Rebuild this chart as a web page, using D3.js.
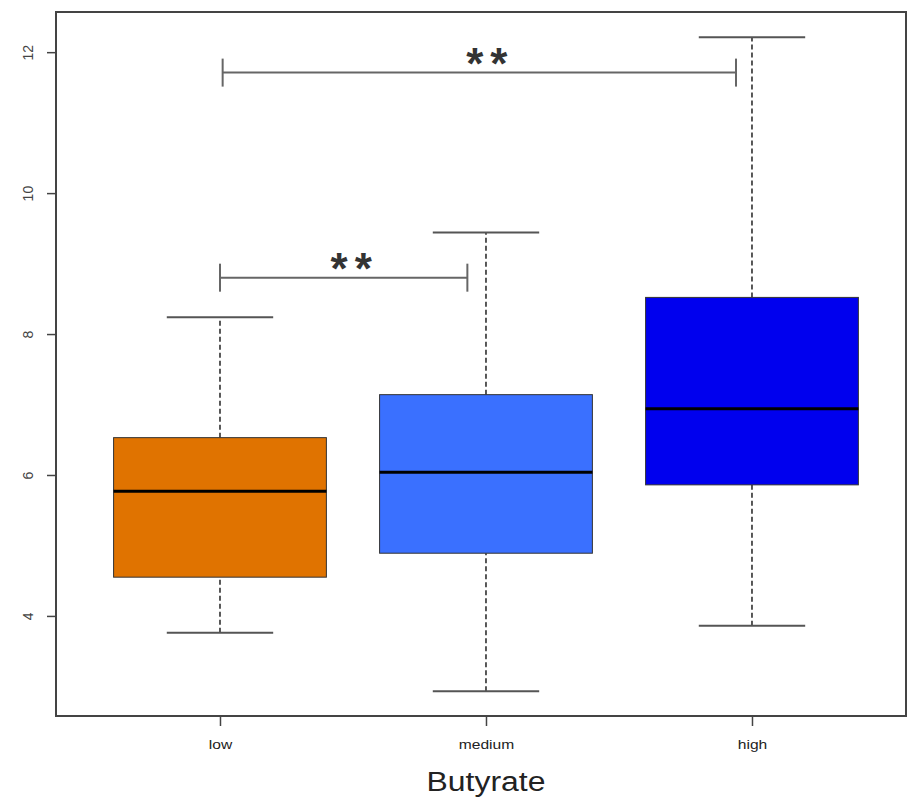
<!DOCTYPE html>
<html>
<head>
<meta charset="utf-8">
<script src="https://cdn.jsdelivr.net/npm/d3@7"></script>
<style>
  body { margin: 0; background: #fff; }
  svg { display: block; font-family: "Liberation Sans", Arial, sans-serif; }
</style>
</head>
<body>
<svg id="chart" width="909" height="804"></svg>
<script>
// groups along the x axis
let categories = ["low", "medium", "high"];
let boxColors = ["#E07300", "#3A70FF", "#0000EE"];

// five number summaries
let whiskerLow = [3.76, 2.93, 3.86];
let q1 = [4.55, 4.89, 5.86];
let median = [5.77, 6.04, 6.94];
let q3 = [6.53, 7.14, 8.52];
let whiskerHigh = [8.24, 9.44, 12.21];

let yTicks = [4, 6, 8, 10, 12];

// significance brackets
let sigFrom = [1, 1.01];
let sigTo = [1.93, 2.94];
let sigY = [8.8, 11.71];
let sigLabel = ["**", "**"];

let svg = d3.select("#chart");

let frame = { left: 56, right: 906, top: 12, bottom: 716 };

let x = d3.scaleLinear()
  .domain([0.3835, 3.579])
  .range([frame.left, frame.right]);

let y = d3.scaleLinear()
  .domain([2.58, 12.57])
  .range([frame.bottom, frame.top]);

let boxW = (x(2) - x(1)) * 0.8;
let capW = boxW * 0.5;

let data = categories.map((c, i) => ({
  name: c,
  pos: i + 1,
  lo: whiskerLow[i],
  q1: q1[i],
  med: median[i],
  q3: q3[i],
  hi: whiskerHigh[i],
  color: boxColors[i]
}));

let boxes = svg.selectAll("g.box")
  .data(data)
  .enter()
  .append("g")
  .attr("class", "box");

// dashed whiskers
boxes.append("line")
  .attr("x1", d => x(d.pos)).attr("x2", d => x(d.pos))
  .attr("y1", d => y(d.lo)).attr("y2", d => y(d.q1))
  .attr("stroke", "#222").attr("stroke-width", 1.5)
  .attr("stroke-dasharray", "5,3");
boxes.append("line")
  .attr("x1", d => x(d.pos)).attr("x2", d => x(d.pos))
  .attr("y1", d => y(d.q3)).attr("y2", d => y(d.hi))
  .attr("stroke", "#222").attr("stroke-width", 1.5)
  .attr("stroke-dasharray", "5,3");

// staples
boxes.append("line")
  .attr("x1", d => x(d.pos) - capW / 2).attr("x2", d => x(d.pos) + capW / 2)
  .attr("y1", d => y(d.lo)).attr("y2", d => y(d.lo))
  .attr("stroke", "#555").attr("stroke-width", 2);
boxes.append("line")
  .attr("x1", d => x(d.pos) - capW / 2).attr("x2", d => x(d.pos) + capW / 2)
  .attr("y1", d => y(d.hi)).attr("y2", d => y(d.hi))
  .attr("stroke", "#555").attr("stroke-width", 2);

// boxes
boxes.append("rect")
  .attr("x", d => x(d.pos) - boxW / 2)
  .attr("width", boxW)
  .attr("y", d => y(d.q3))
  .attr("height", d => y(d.q1) - y(d.q3))
  .attr("fill", d => d.color)
  .attr("stroke", "#333")
  .attr("stroke-width", 1);

// medians
boxes.append("line")
  .attr("x1", d => x(d.pos) - boxW / 2).attr("x2", d => x(d.pos) + boxW / 2)
  .attr("y1", d => y(d.med)).attr("y2", d => y(d.med))
  .attr("stroke", "#000").attr("stroke-width", 3);

// significance brackets
let sig = svg.selectAll("g.sig")
  .data(sigLabel.map((l, i) => ({ a: sigFrom[i], b: sigTo[i], v: sigY[i], label: l })))
  .enter()
  .append("g")
  .attr("class", "sig");

sig.append("line")
  .attr("x1", d => x(d.a)).attr("x2", d => x(d.b))
  .attr("y1", d => y(d.v)).attr("y2", d => y(d.v))
  .attr("stroke", "#666").attr("stroke-width", 2);
sig.append("line")
  .attr("x1", d => x(d.a)).attr("x2", d => x(d.a))
  .attr("y1", d => y(d.v) - 14).attr("y2", d => y(d.v) + 14)
  .attr("stroke", "#666").attr("stroke-width", 2);
sig.append("line")
  .attr("x1", d => x(d.b)).attr("x2", d => x(d.b))
  .attr("y1", d => y(d.v) - 14).attr("y2", d => y(d.v) + 14)
  .attr("stroke", "#666").attr("stroke-width", 2);
sig.append("text")
  .attr("x", d => (x(d.a) + x(d.b)) / 2 + 11)
  .attr("y", d => y(d.v) + 6)
  .attr("text-anchor", "middle")
  .attr("font-size", 44)
  .attr("font-weight", "bold")
  .attr("letter-spacing", 7)
  .attr("fill", "#333")
  .text(d => d.label);

// axes
let yAxis = svg.append("g")
  .attr("transform", `translate(${frame.left},0)`)
  .call(d3.axisLeft(y).tickValues(yTicks).tickSize(9).tickFormat(d3.format("d")));
yAxis.select(".domain").remove();
yAxis.selectAll("line").attr("stroke", "#444").attr("stroke-width", 1.5);
yAxis.selectAll("text")
  .attr("x", 0).attr("dy", "0.35em")
  .attr("transform", "translate(-28,0) rotate(-90)")
  .attr("text-anchor", "middle")
  .attr("font-size", 14)
  .attr("fill", "#444");

let xAxis = svg.append("g")
  .attr("transform", `translate(0,${frame.bottom})`)
  .call(d3.axisBottom(x).tickValues([1, 2, 3]).tickSize(10).tickFormat(d => categories[d - 1]));
xAxis.select(".domain").remove();
xAxis.selectAll("line").attr("stroke", "#444").attr("stroke-width", 1.5);
xAxis.selectAll("text")
  .attr("x", 0).attr("y", 0).attr("dy", 0)
  .attr("transform", "translate(0,33) scale(1.2,1)")
  .attr("font-size", 13)
  .attr("fill", "#222");

// frame
svg.append("rect")
  .attr("x", frame.left).attr("y", frame.top)
  .attr("width", frame.right - frame.left)
  .attr("height", frame.bottom - frame.top)
  .attr("fill", "none")
  .attr("stroke", "#444")
  .attr("stroke-width", 2);

// axis title
svg.append("text")
  .attr("transform", `translate(${x(2)},791) scale(1.14,1)`)
  .attr("text-anchor", "middle")
  .attr("font-size", 28)
  .attr("fill", "#222")
  .text("Butyrate");
</script>
</body>
</html>
